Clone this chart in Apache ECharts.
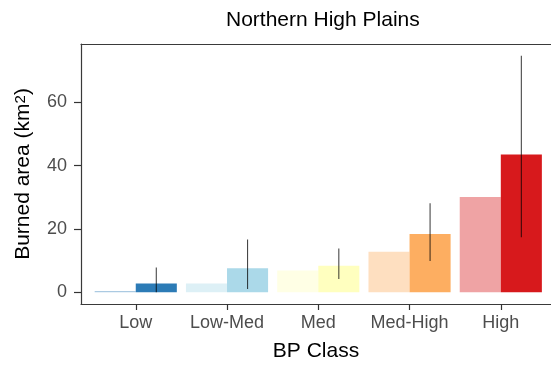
<!DOCTYPE html>
<html lang="en">
<head>
    <meta charset="UTF-8">
    <title>Northern High Plains</title>
    <script src="https://cdn.jsdelivr.net/npm/echarts@6/dist/echarts.min.js"></script>
    <style>
        html, body { margin: 0; padding: 0; background: #fff; }
        #chart { width: 551px; height: 367px; }
    </style>
</head>
<body>
<div id="chart"></div>
<script>
  // data
  var categories = ['Low', 'Low-Med', 'Med', 'Med-High', 'High'];
  var baseline = [0.4, 2.8, 6.9, 12.8, 30.1];     // light bars
  var observed = [2.8, 7.6, 8.4, 18.4, 43.5];     // solid bars
  var errLow = [0, 1.0, 4.2, 9.9, 17.4];
  var errHigh = [7.8, 16.7, 13.8, 28.1, 74.7];
  var yTicks = [0, 20, 40, 60];
  var classColors = ['#2c7bb6', '#abd9e9', '#ffffbf', '#fdae61', '#d7191c'];

  var xPos = categories.map(function(c, i) { return i + 1; });
  var font = 'Liberation Sans, Arial, sans-serif';
  var frame = { show: true, onZero: false, lineStyle: { color: '#3a3a3a', width: 1.2 } };

  function barData(vals, opacity) {
    return vals.map(function(v, i) {
      return {
        value: [xPos[i], v],
        itemStyle: { color: classColors[i], opacity: opacity }
      };
    });
  }

  var options = {
    animation: false,
    title: {
      text: 'Northern High Plains',
      left: 221,
      top: 5,
      textStyle: { fontFamily: font, fontSize: 21, fontWeight: 'normal', color: '#000' }
    },
    // plot panel runs past the right edge of the picture (cropped)
    grid: {
      left: 81,
      top: 44,
      right: 0,
      bottom: 62
    },
    xAxis: [
      {
        type: 'value',
        min: 0.4,
        max: 5.55,
        name: 'BP Class',
        nameLocation: 'middle',
        nameGap: 37,
        nameTextStyle: { fontFamily: font, fontSize: 21, color: '#000' },
        axisLine: frame,
        splitLine: { show: false },
        axisTick: { show: true, length: 6, customValues: xPos, lineStyle: { color: '#333', width: 1.2 } },
        axisLabel: {
          customValues: xPos,
          margin: 10,
          fontFamily: font,
          fontSize: 18,
          color: '#4d4d4d',
          formatter: function(v) { return categories[Math.round(v) - 1] || ''; }
        }
      },
      {
        // top edge of the panel
        type: 'value',
        position: 'top',
        min: 0.4,
        max: 5.55,
        axisLine: frame,
        axisTick: { show: false },
        axisLabel: { show: false },
        splitLine: { show: false }
      }
    ],
    yAxis: {
      type: 'value',
      min: -3.7,
      max: 78.4,
      name: '{a|Burned area (km}{s|2}{a|)}',
      nameLocation: 'middle',
      nameRotate: 90,
      nameGap: 47,
      nameTextStyle: {
        rich: {
          a: { fontFamily: font, fontSize: 21, color: '#000' },
          s: { fontFamily: font, fontSize: 15, color: '#000', verticalAlign: 'top', padding: [0, 0, 6, 0] }
        }
      },
      axisLine: frame,
      splitLine: { show: false },
      axisTick: { show: true, length: 7, customValues: yTicks, lineStyle: { color: '#333', width: 1.2 } },
      axisLabel: {
        customValues: yTicks,
        margin: 14,
        fontFamily: font,
        fontSize: 18,
        color: '#4d4d4d'
      }
    },
    series: [
      {
        name: 'baseline',
        type: 'bar',
        barGap: '0%',
        barCategoryGap: '10%',
        data: barData(baseline, 0.4)
      },
      {
        name: 'observed',
        type: 'bar',
        barGap: '0%',
        barCategoryGap: '10%',
        data: barData(observed, 1)
      },
      {
        name: 'error',
        type: 'custom',
        z: 5,
        data: xPos.map(function(x, i) { return [x, errLow[i], errHigh[i]]; }),
        renderItem: function(params, api) {
          var off = api.size([0.225, 0])[0];
          var p1 = api.coord([api.value(0), api.value(1)]);
          var p2 = api.coord([api.value(0), api.value(2)]);
          return {
            type: 'line',
            shape: { x1: p1[0] + off, y1: p1[1], x2: p2[0] + off, y2: p2[1] },
            style: { stroke: 'rgba(0,0,0,0.72)', lineWidth: 1.1 }
          };
        }
      }
    ]
  };

  var myChart = echarts.init(document.getElementById('chart'));
  myChart.setOption(options);
</script>
</body>
</html>
